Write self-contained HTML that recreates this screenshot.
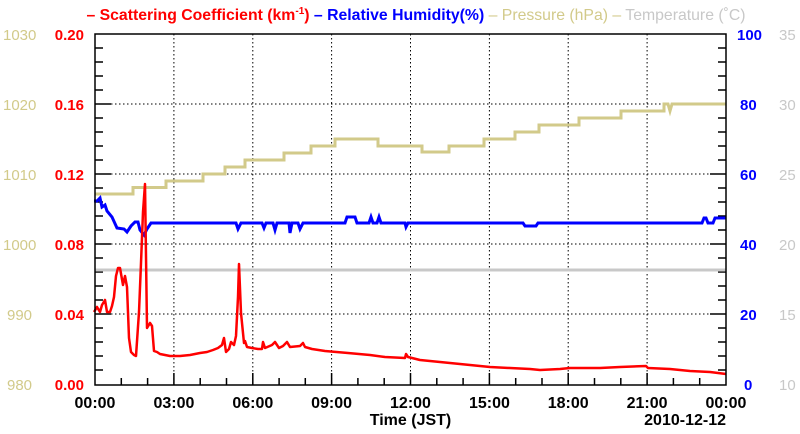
<!DOCTYPE html>
<html><head><meta charset="utf-8"><style>
body{margin:0;background:#fff;width:800px;height:434px;overflow:hidden}
svg{display:block;font-family:"Liberation Sans",sans-serif}
</style></head><body>
<svg width="800" height="434" viewBox="0 0 800 434">
<g font-size="15.8" font-weight="bold" text-anchor="middle">
<text x="416" y="20"><tspan fill="#ff0000">– Scattering Coefficient (km<tspan font-size="10" dy="-6">-1</tspan><tspan dy="6">) </tspan></tspan><tspan fill="#0000ff">– Relative Humidity(%) </tspan><tspan fill="#d2ca8a" font-weight="normal">– Pressure (hPa) – </tspan><tspan fill="#c8c8c8" font-weight="normal">Temperature (˚C)</tspan></text>
</g>
<g stroke="#000" stroke-dasharray="1.5,2.5" stroke-width="1">
<line x1="173.9" y1="34" x2="173.9" y2="385"/><line x1="252.8" y1="34" x2="252.8" y2="385"/><line x1="331.6" y1="34" x2="331.6" y2="385"/><line x1="410.5" y1="34" x2="410.5" y2="385"/><line x1="489.4" y1="34" x2="489.4" y2="385"/><line x1="568.2" y1="34" x2="568.2" y2="385"/><line x1="647.1" y1="34" x2="647.1" y2="385"/>
<line x1="95" y1="104" x2="726" y2="104"/><line x1="95" y1="174" x2="726" y2="174"/><line x1="95" y1="244" x2="726" y2="244"/><line x1="95" y1="314" x2="726" y2="314"/>
</g>
<g stroke="#000" stroke-width="1.5">
<path d="M95,48h8M95,62h8M95,76h8M95,90h8M95,104h16M95,118h8M95,132h8M95,146h8M95,160h8M95,174h16M95,188h8M95,202h8M95,216h8M95,230h8M95,244h16M95,258h8M95,272h8M95,286h8M95,300h8M95,314h16M95,328h8M95,342h8M95,356h8M95,370h8"/>
<path d="M726,48h-8M726,62h-8M726,76h-8M726,90h-8M726,104h-16M726,118h-8M726,132h-8M726,146h-8M726,160h-8M726,174h-16M726,188h-8M726,202h-8M726,216h-8M726,230h-8M726,244h-16M726,258h-8M726,272h-8M726,286h-8M726,300h-8M726,314h-16M726,328h-8M726,342h-8M726,356h-8M726,370h-8"/>
<path d="M121.3,385v-7M147.6,385v-7M173.9,385v-12M200.2,385v-7M226.5,385v-7M252.8,385v-12M279.1,385v-7M305.3,385v-7M331.6,385v-12M357.9,385v-7M384.2,385v-7M410.5,385v-12M436.8,385v-7M463.1,385v-7M489.4,385v-12M515.7,385v-7M542,385v-7M568.2,385v-12M594.5,385v-7M620.8,385v-7M647.1,385v-12M673.4,385v-7M699.7,385v-7"/>
</g>
<line x1="95" y1="270" x2="726" y2="270" stroke="#c8c8c8" stroke-width="3"/>
<polyline fill="none" stroke="#d2ca8a" stroke-width="3" points="95,194 133,194 133,187.5 166,187.5 166,181 203,181 203,174 225,174 225,167 245,167 245,160 284,160 284,153 311,153 311,146 335,146 335,139 378,139 378,146 422,146 422,152 449,152 449,146 484,146 484,139 515,139 515,132 539,132 539,125 579,125 579,118 621,118 621,111 664,111 664,104 668,104 670,111 672,104 726,104"/>
<polyline fill="none" stroke="#0000ff" stroke-width="3" points="94,201 97,201 100,198 102,207 105,205 107,211 112,217 117,228 124,229 127,232 131,226 135,222 138,222 140,230 144,235 147,229 151,223 236,223 238,229 241,223 262,223 264,228 266,223 273,223 275,230 277,223 289,223 290,233 292,223 298,223 300,229 303,223 345,223 347,217 355,217 357,223 369,223 371,217 373,223 377,223 379,217 381,223 405,223 406,227 408,223 523,223 525,226 536,226 538,223 702,223 704,218 706,218 708,223 713,223 715,218 726,218"/>
<polyline fill="none" stroke="#ff0000" stroke-width="2.5" stroke-linejoin="round" points="94,312 97,307 100,312 102,305 105,300 107,312 110,312 112,306 114,297 116,276 118,268 120,268 123,285 125,276 127,287 129,338 131,352 134,355 136,356 139,312 141,263 143,212 145,184 147,328 150,323 152,326 154,351 157,352 160,354 165,355 170,356 180,356 190,355 200,353 207,352 213,350 218,348 222,345 224,338 226,352 229,349 231,342 234,345 236,336 238,297 239,264 241,313 244,343 245,341 247,347 252,348 258,349 262,349 263,342 265,348 272,345 275,342 279,348 283,346 287,342 290,347 300,346 303,343 305,347 312,349 325,351 348,353 370,355 385,357 405,358 406,354 408,357 420,360 440,362 460,364 490,367 510,368 530,369 540,370 560,369 570,368 600,368 620,367 646,366 648,368 670,369 690,371 710,372 726,374"/>
<rect x="95" y="34" width="631" height="351" fill="none" stroke="#000" stroke-width="1.5"/>
<g font-size="15" font-weight="bold" fill="#ff0000" text-anchor="end">
<text x="84" y="40">0.20</text><text x="84" y="110">0.16</text><text x="84" y="180">0.12</text><text x="84" y="250">0.08</text><text x="84" y="320">0.04</text><text x="84" y="390">0.00</text>
</g>
<g font-size="15" fill="#d2ca8a" text-anchor="start">
<text x="3" y="40">1030</text><text x="3" y="110">1020</text><text x="3" y="180">1010</text><text x="3" y="250">1000</text><text x="7" y="320">990</text><text x="7" y="390">980</text>
</g>
<g font-size="15" font-weight="bold" fill="#0000ff" text-anchor="start">
<text x="737" y="40">100</text><text x="740" y="110">80</text><text x="740" y="180">60</text><text x="740" y="250">40</text><text x="740" y="320">20</text><text x="744" y="390">0</text>
</g>
<g font-size="15" fill="#c8c8c8" text-anchor="start">
<text x="779" y="40">35</text><text x="779" y="110">30</text><text x="779" y="180">25</text><text x="779" y="250">20</text><text x="779" y="320">15</text><text x="779" y="390">10</text>
</g>
<g font-size="16" font-weight="bold" fill="#000" text-anchor="middle">
<text x="95" y="408">00:00</text><text x="173.9" y="408">03:00</text><text x="252.8" y="408">06:00</text><text x="331.6" y="408">09:00</text><text x="410.5" y="408">12:00</text><text x="489.4" y="408">15:00</text><text x="568.2" y="408">18:00</text><text x="647.1" y="408">21:00</text><text x="726" y="408">00:00</text>
<text x="410.5" y="425">Time (JST)</text>
<text x="726" y="425" text-anchor="end">2010-12-12</text>
</g>
</svg>
</body></html>
